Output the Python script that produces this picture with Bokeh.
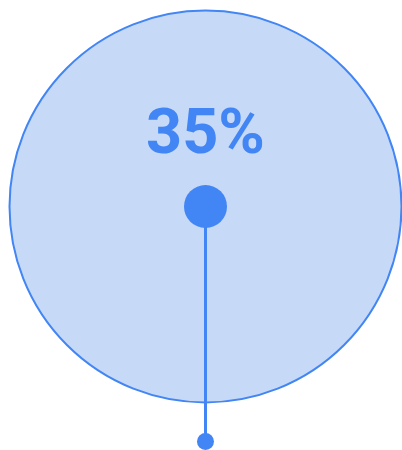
from bokeh.plotting import figure
from bokeh.models import Range1d, ColumnDataSource
from bokeh.core.properties import value
from bokeh.embed import file_html
from bokeh.resources import INLINE

# data
labels = ["35%"]
values = [35]

BLUE = "#4285f4"
FILL = "#c6d9f6"

p = figure(width=402, height=450, output_backend="svg", toolbar_location=None,
           x_range=Range1d(0, 402), y_range=Range1d(450, 0), min_border=0)
p.axis.visible = False
p.grid.visible = False
p.outline_line_color = None
p.background_fill_color = "white"
p.border_fill_color = "white"

cx, cy = 205, 206
src = ColumnDataSource(dict(x=[cx], y=[cy], ty=[131], v=values, label=labels))

p.circle(x="x", y="y", radius=196, source=src, fill_color=FILL, line_color=BLUE, line_width=2)
p.segment(x0=[cx], y0=[cy], x1=[cx], y1=[441], line_color=BLUE, line_width=3)
p.scatter(x=[cx], y=[cy], size=43, fill_color=BLUE, line_color=None)
p.scatter(x=[cx], y=[441], size=17, fill_color=BLUE, line_color=None)
p.text(x="x", y="ty", text="label", source=src, text_font=value("Roboto"), text_font_style="bold",
       text_font_size="63px", text_color=BLUE, text_align="center", text_baseline="middle")

open("out.html", "w").write(file_html(p, INLINE))
